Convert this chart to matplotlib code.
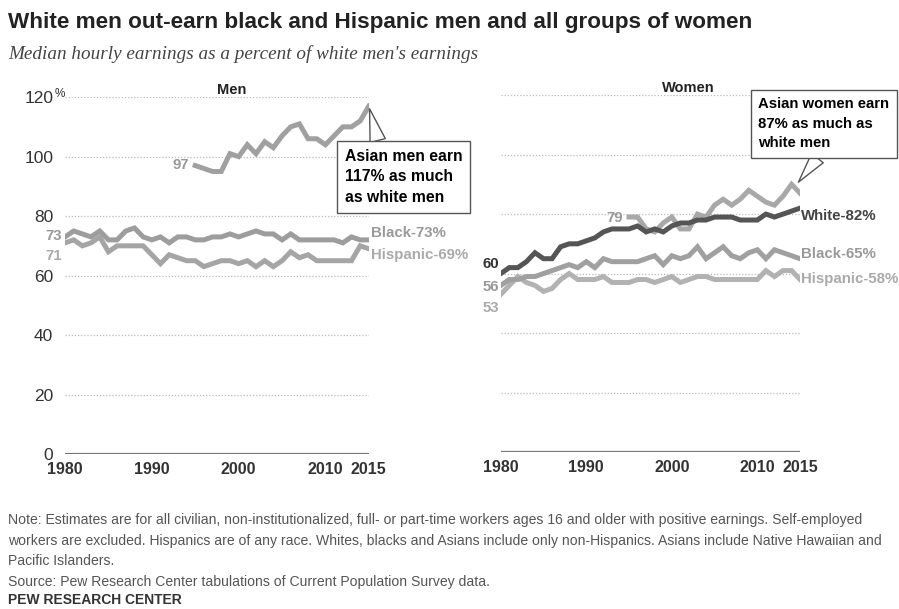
import matplotlib
matplotlib.use("Agg")
import matplotlib.pyplot as plt

plt.rcParams['font.family'] = ['Liberation Sans', 'DejaVu Sans']

years = list(range(1980, 2016))
asian_years = list(range(1995, 2016))

# men, % of white men's earnings
men_black = [73, 75, 74, 73, 75, 72, 72, 75, 76, 73, 72, 73, 71, 73, 73, 72, 72, 73,
             73, 74, 73, 74, 75, 74, 74, 72, 74, 72, 72, 72, 72, 72, 71, 73, 72, 72]
men_hispanic = [71, 72, 70, 71, 73, 68, 70, 70, 70, 70, 67, 64, 67, 66, 65, 65, 63, 64,
                65, 65, 64, 65, 63, 65, 63, 65, 68, 66, 67, 65, 65, 65, 65, 65, 70, 69]
men_asian = [97, 96, 95, 95, 101, 100, 104, 101, 105, 103, 107, 110, 111, 106, 106,
             104, 107, 110, 110, 112, 117]

# women, % of white men's earnings
women_white = [60, 62, 62, 64, 67, 65, 65, 69, 70, 70, 71, 72, 74, 75, 75, 75, 76, 74,
               75, 74, 76, 77, 77, 78, 78, 79, 79, 79, 78, 78, 78, 80, 79, 80, 81, 82]
women_black = [56, 58, 58, 59, 59, 60, 61, 62, 63, 62, 64, 62, 65, 64, 64, 64, 64, 65,
               66, 63, 66, 65, 66, 69, 65, 67, 69, 66, 65, 67, 68, 65, 68, 67, 66, 65]
women_hispanic = [53, 56, 59, 57, 56, 54, 55, 58, 60, 58, 58, 58, 59, 57, 57, 57, 58, 58,
                  57, 58, 59, 57, 58, 59, 59, 58, 58, 58, 58, 58, 58, 61, 59, 61, 61, 58]
women_asian = [79, 79, 75, 74, 77, 79, 75, 75, 80, 79, 83, 85, 83, 85, 88, 86, 84, 83,
               86, 90, 87]

yticks = [0, 20, 40, 60, 80, 100, 120]
xticks = [1980, 1990, 2000, 2010, 2015]

fig = plt.figure(figsize=(8.99, 6.09), dpi=100)
ax_m = fig.add_axes([0.0723, 0.2545, 0.338, 0.586])
ax_w = fig.add_axes([0.557, 0.2578, 0.333, 0.586])

for ax in (ax_m, ax_w):
    ax.set_xlim(1980, 2015)
    ax.set_ylim(0, 120)
    for s in ax.spines.values():
        s.set_visible(False)
    ax.set_yticks(yticks)
    ax.set_xticks(xticks)
    ax.tick_params(length=0, labelsize=11.5, labelcolor='#333333', pad=6)
    for y in yticks[1:]:
        ax.axhline(y, color='#bbbbbb', lw=0.9, ls=(0, (1, 1.5)), zorder=0)
    ax.axhline(0, color='#777777', lw=1.6, zorder=1)
    for lab in ax.get_xticklabels():
        lab.set_fontweight('bold')

ax_m.set_yticklabels([str(v) for v in yticks])
ax_m.tick_params(axis='y', pad=8.5, labelsize=12.5)
ax_w.set_yticklabels([])
ax_m.text(-0.035, 121, '%', transform=ax_m.get_yaxis_transform(), fontsize=8.5,
          color='#333333', ha='left', va='center')

lw = 3.6
ax_m.plot(years, men_black, color='#9d9d9d', lw=lw, solid_joinstyle='miter')
ax_m.plot(years, men_hispanic, color='#a5a5a5', lw=lw, solid_joinstyle='miter')
ax_m.plot(asian_years, men_asian, color='#a0a0a0', lw=lw, solid_joinstyle='miter')

ax_w.plot(years, women_hispanic, color='#b2b2b2', lw=lw, solid_joinstyle='miter')
ax_w.plot(years, women_black, color='#a0a0a0', lw=lw, solid_joinstyle='miter')
ax_w.plot(asian_years, women_asian, color='#a8a8a8', lw=lw, solid_joinstyle='miter')
ax_w.plot(years, women_white, color='#555555', lw=lw, solid_joinstyle='miter')

lab = dict(fontsize=10.8, fontweight='bold', va='center', clip_on=False)
ax_m.text(2015.3, 74.3, 'Black-73%', color='#999999', ha='left', **lab)
ax_m.text(2015.3, 66.9, 'Hispanic-69%', color='#aaaaaa', ha='left', **lab)
ax_m.text(1979.6, 73.3, '73', color='#999999', ha='right', **lab)
ax_m.text(1979.6, 66.6, '71', color='#aaaaaa', ha='right', **lab)
ax_m.text(1994.3, 97.1, '97', color='#999999', ha='right', **lab)

ax_w.text(2015.1, 79.3, 'White-82%', color='#444444', ha='left', **lab)
ax_w.text(2015.1, 66.6, 'Black-65%', color='#999999', ha='left', **lab)
ax_w.text(2015.1, 58.2, 'Hispanic-58%', color='#aaaaaa', ha='left', **lab)
ax_w.text(1979.8, 63.2, '60', color='#333333', ha='right', **lab)
ax_w.text(1979.8, 55.5, '56', color='#999999', ha='right', **lab)
ax_w.text(1979.8, 48.4, '53', color='#aaaaaa', ha='right', **lab)
ax_w.text(1994.3, 78.7, '79', color='#999999', ha='right', **lab)

ax_m.text(0.55, 1.0, 'Men', transform=ax_m.transAxes, fontsize=10.5, fontweight='bold',
          ha='center', va='bottom', color='#222222')
ax_w.text(0.625, 1.0, 'Women', transform=ax_w.transAxes, fontsize=10.5, fontweight='bold',
          ha='center', va='bottom', color='#222222')

box = dict(boxstyle='square,pad=0.5', fc='white', ec='#555555', lw=1)
ax_m.annotate('Asian men earn\n117% as much\nas white men', xy=(2015, 117),
              xytext=(2012.2, 102.6), textcoords='data', ha='left', va='top',
              fontsize=11.3, fontweight='bold', linespacing=1.45, bbox=box,
              annotation_clip=False,
              arrowprops=dict(arrowstyle='wedge,tail_width=1.0', fc='white',
                              ec='#555555', lw=1, relpos=(0.3, 1.0),
                              shrinkA=0, shrinkB=2))
ax_w.annotate('Asian women earn\n87% as much as\nwhite men', xy=(2014.6, 90),
              xytext=(2010.1, 119.3), textcoords='data', ha='left', va='top',
              fontsize=10.7, fontweight='bold', linespacing=1.5, bbox=box,
              annotation_clip=False,
              arrowprops=dict(arrowstyle='wedge,tail_width=1.0', fc='white',
                              ec='#555555', lw=1, relpos=(0.5, 0.0),
                              shrinkA=0, shrinkB=2))

fig.text(0.009, 0.963, 'White men out-earn black and Hispanic men and all groups of women',
         fontsize=16.2, fontweight='bold', color='#222222', va='center', ha='left')
fig.text(0.009, 0.912, "Median hourly earnings as a percent of white men's earnings",
         fontsize=13.8, style='italic', family=['Liberation Serif', 'DejaVu Serif'],
         color='#444444', va='center', ha='left')

note = ("Note: Estimates are for all civilian, non-institutionalized, full- or part-time workers "
        "ages 16 and older with positive earnings. Self-employed\nworkers are excluded. Hispanics "
        "are of any race. Whites, blacks and Asians include only non-Hispanics. Asians include "
        "Native Hawaiian and\nPacific Islanders.\n"
        "Source: Pew Research Center tabulations of Current Population Survey data.")
fig.text(0.009, 0.1576, note, fontsize=10.1, color='#555555', va='top', ha='left',
         linespacing=1.6)
fig.text(0.009, 0.014, 'PEW RESEARCH CENTER', fontsize=10, fontweight='bold',
         color='#333333', va='center', ha='left')

fig.savefig('out.png', dpi=100)
